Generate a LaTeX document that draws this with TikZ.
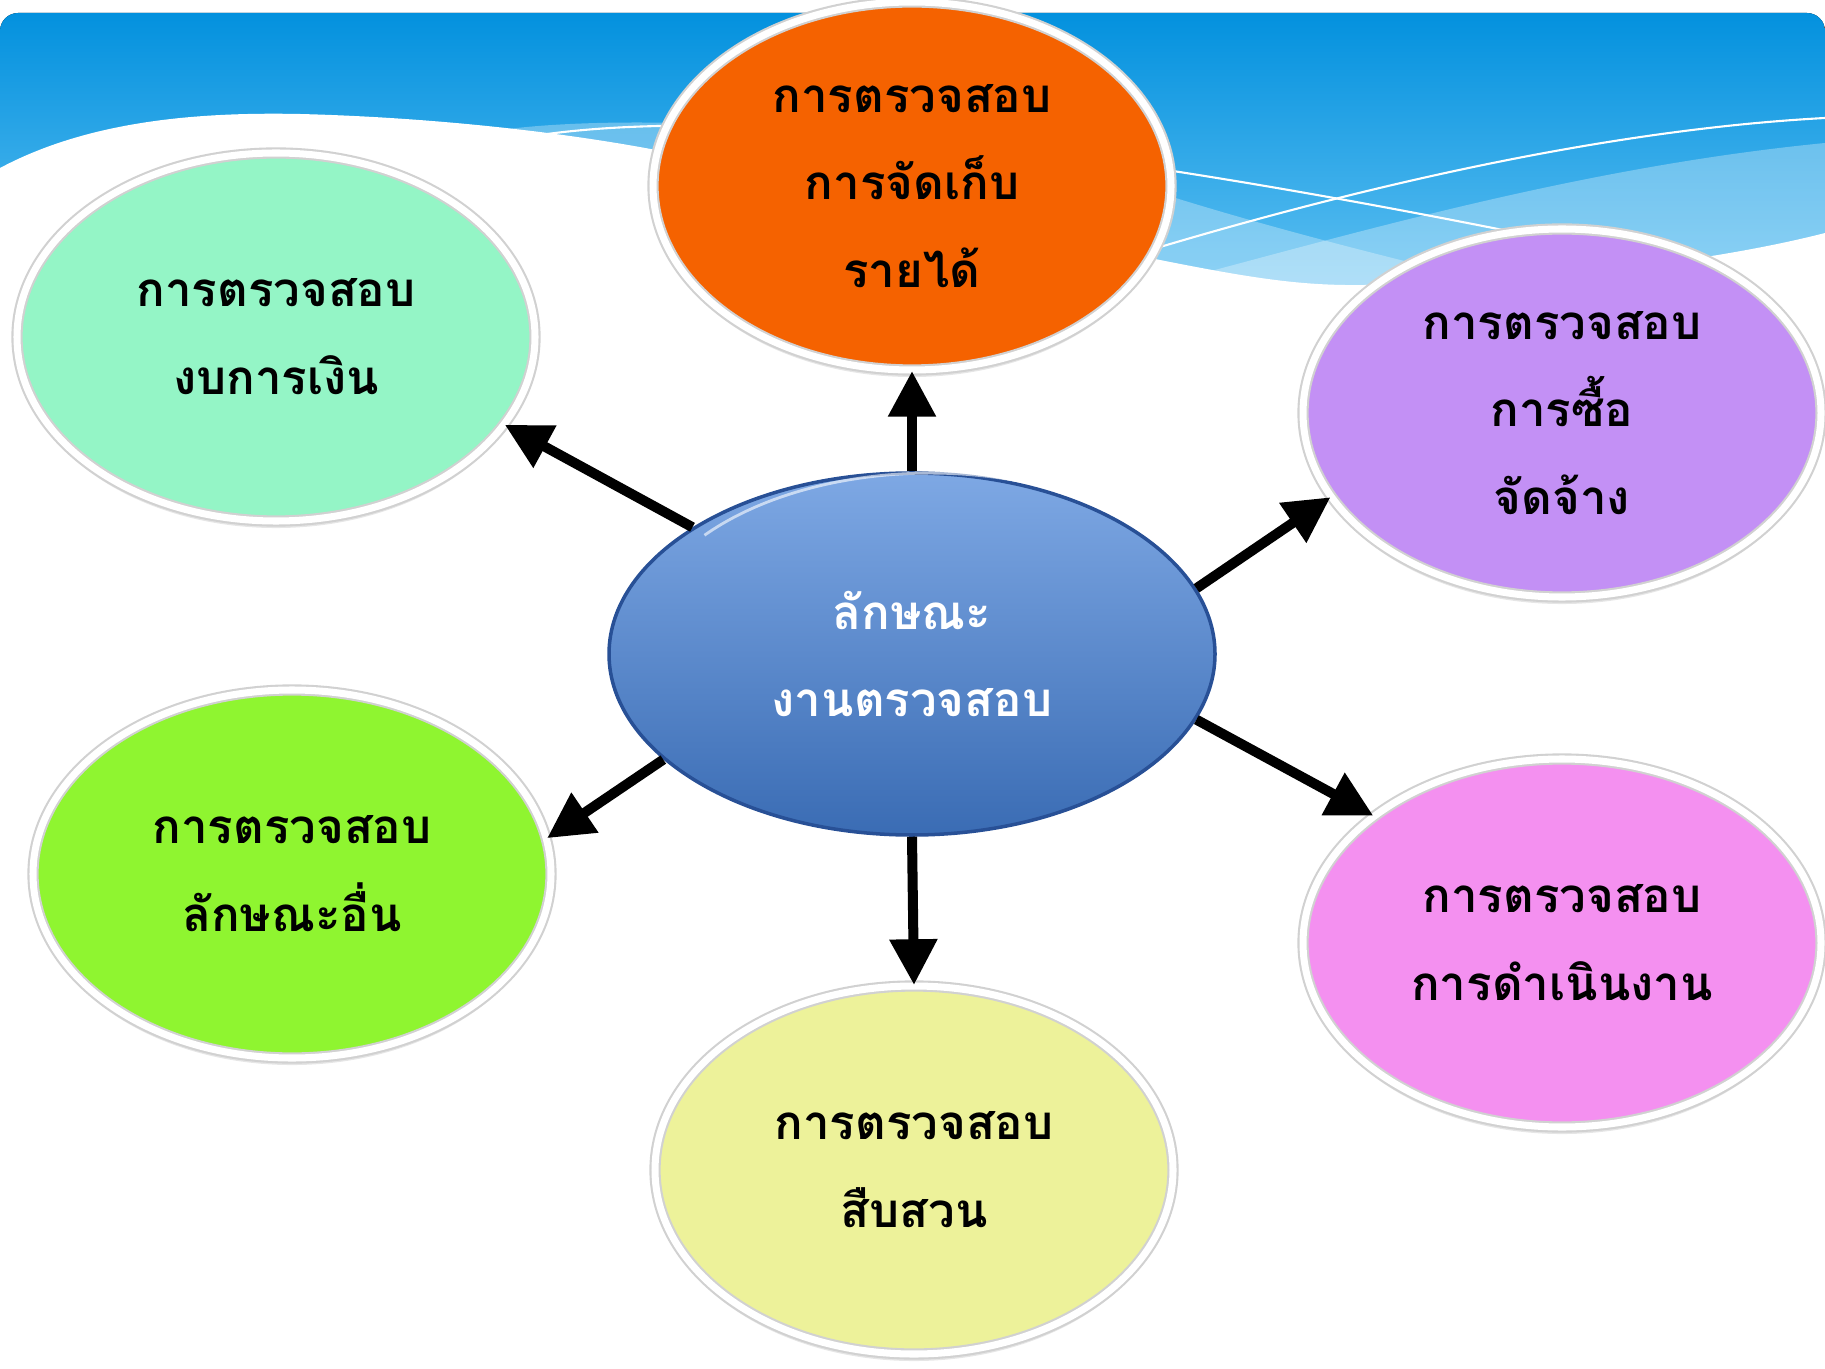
\documentclass[tikz,border=0pt]{standalone}
\usepackage{fontspec}
\newfontfamily\thaifont[Script=Thai]{Loma}
\usepackage{tikz}
\usetikzlibrary{arrows.meta,shapes.geometric,shadows}

\definecolor{bannertop}{RGB}{3,145,222}
\definecolor{bannerbot}{RGB}{110,200,245}
\definecolor{revcol}{RGB}{245,98,0}
\definecolor{fincol}{RGB}{148,245,198}
\definecolor{proccol}{RGB}{195,144,245}
\definecolor{othercol}{RGB}{143,245,48}
\definecolor{opercol}{RGB}{244,144,240}
\definecolor{invcol}{RGB}{237,242,154}
\definecolor{hubtop}{RGB}{126,168,228}
\definecolor{hubbot}{RGB}{58,108,180}
\definecolor{hubedge}{RGB}{40,80,150}

\begin{document}
\begin{tikzpicture}[
  topic/.style={ellipse, fill=#1, draw=black!18, double=white, double distance=2pt,
    line width=0.6pt, minimum width=5.18cm, minimum height=3.68cm, inner sep=0pt,
    align=center, font=\thaifont\bfseries\fontsize{13.5}{25}\selectfont,
    drop shadow={shadow xshift=0pt, shadow yshift=-2pt, opacity=0.2}},
  hub/.style={ellipse, top color=hubtop, bottom color=hubbot, draw=hubedge,
    line width=1pt, minimum width=6.06cm, minimum height=3.62cm, inner sep=0pt,
    align=center, text=white, font=\thaifont\bfseries\fontsize{13.5}{25}\selectfont},
  arr/.style={line width=2.85pt, -{Triangle[length=13pt,width=13pt]}}
]
\useasboundingbox (0,0) rectangle (18.25,-13.69);
% Banner
\fill[top color=bannertop, bottom color=bannerbot, rounded corners=0.18cm]
  (0,-0.13) rectangle (18.25,-3.4);
\fill[white, opacity=0.3] (5.0,-1.3) .. controls (6.5,-1.1) and (9.5,-1.3) .. (11.5,-1.9)
  .. controls (12.6,-2.25) and (13.6,-2.5) .. (14.6,-2.75) -- (14.6,-3.3) -- (5.0,-3.3) -- cycle;
\fill[white, opacity=0.3] (11.0,-3.0) .. controls (13,-2.5) and (15.5,-1.7) .. (18.25,-1.43)
  -- (18.25,-3.3) -- cycle;
\draw[white, line width=0.6pt] (5.4,-1.35) .. controls (7.5,-1.05) and (11,-1.5) .. (15.03,-2.3);
\draw[white, line width=0.6pt] (11.5,-2.5) .. controls (13.5,-1.9) and (16,-1.3) .. (18.25,-1.18);
\fill[white] (0,-1.68) .. controls (0.9,-1.2) and (2.0,-1.12) .. (3.0,-1.14)
  .. controls (4.2,-1.17) and (5.5,-1.3) .. (6.56,-1.5)
  .. controls (8.5,-1.9) and (10.5,-2.4) .. (11.5,-2.58)
  .. controls (12.5,-2.78) and (13.0,-2.86) .. (13.65,-2.85)
  .. controls (15.5,-2.82) and (17.2,-2.6) .. (18.25,-2.33)
  -- (18.25,-3.6) -- (0,-3.6) -- cycle;
% Ellipses
\node[hub] (hub) at (9.12,-6.54) {ลักษณะ\\งานตรวจสอบ};
\node[topic=revcol] (rev) at (9.12,-1.86) {การตรวจสอบ\\การจัดเก็บ\\รายได้};
\node[topic=fincol] (fin) at (2.76,-3.37) {การตรวจสอบ\\งบการเงิน};
\node[topic=proccol] (proc) at (15.62,-4.13) {การตรวจสอบ\\การซื้อ\\จัดจ้าง};
\node[topic=othercol] (other) at (2.92,-8.74) {การตรวจสอบ\\ลักษณะอื่น};
\node[topic=opercol] (oper) at (15.62,-9.43) {การตรวจสอบ\\การดำเนินงาน};
\node[topic=invcol] (inv) at (9.14,-11.70) {การตรวจสอบ\\สืบสวน};
% highlight on the hub
\draw[white, opacity=0.6, line width=0.8pt] ([shift={(0.12,-0.08)}]hub.150) arc[start angle=140, end angle=60, x radius=2.95cm, y radius=1.74cm];
% Arrows
\draw[arr] (hub.90) -- (rev.270);
\draw[arr] (hub.150) -- (fin.339);
\draw[arr] (hub.13) -- (proc.200);
\draw[arr] (hub.203) -- (other.8);
\draw[arr] (hub.347) -- (oper.146);
\draw[arr] (hub.270) -- (inv.90);
\end{tikzpicture}
\end{document}
